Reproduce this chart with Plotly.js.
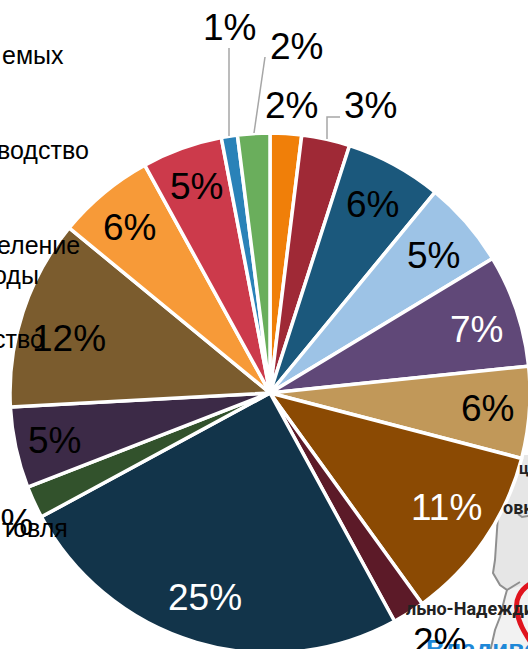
<!DOCTYPE html>
<html><head><meta charset="utf-8">
<script src="https://cdn.plot.ly/plotly-3.0.1.min.js"></script>
<style>html,body{margin:0;padding:0;width:528px;height:649px;overflow:hidden;background:#fff}</style>
</head><body><div id="c"></div>
<script>
const sliceNames = ["A","B","C","D","E","F","G","H","I","J","K","L","M","N","O","P"];
const sliceValues = [1.95,3.0,6.0,5.4,7.0,5.7,11.0,2.0,25.05,2.0,5.05,11.8,6.05,5.0,1.0,2.0];
const sliceColors = ["#F07F09","#9F2936","#1B587C","#9DC3E6","#604878","#C19859","#8B4A03","#5C1A28","#12344A","#32522C","#3C2A47","#7B5C2E","#F79A38","#CC3A4B","#2A82B8","#6AAE5C"];
const pctLabels = ["2%","3%","6%","5%","7%","6%","11%","2%","25%","2%","5%","12%","6%","5%","1%","2%"];
const pctX = [291,370,372,433,476,487,447,439,205,6,54,69,129,196,229,296];
const pctY = [105,105,204,256,329,408,508,641,597,522,440,339,228,187,28,46];
const pctCol = ["#000","#000","#000","#000","#fff","#000","#fff","#000","#fff","#000","#000","#000","#000","#000","#000","#000"];
const fragTexts = ["емых","водство","еление","оды","ство","товля"];
const fragRight = [66,91,82,41,46,70];
const fragY = [55,150,245,275,339,528];

const W=540,H=670;
const ann=[];
const px=x=>x/W, py=y=>1-y/H;
const mapTexts=[["ц",524,468,16],["овк",518,508,18],["льно-Надежди",470,608,18]];
ann.push({xref:'paper',yref:'paper',x:px(424),y:py(649),xanchor:'left',yanchor:'middle',showarrow:false,text:'<b>Владивос</b>',font:{family:'Liberation Sans',size:26,color:'#1E88D8'}});
mapTexts.forEach(m=>ann.push({xref:'paper',yref:'paper',x:px(m[1]),y:py(m[2]),xanchor:'center',yanchor:'middle',showarrow:false,text:'<b>'+m[0]+'</b>',font:{family:'Roboto, Liberation Sans',size:m[3],color:'#222'}}));
pctLabels.forEach((t,i)=>ann.push({xref:'paper',yref:'paper',x:px(pctX[i]),y:py(pctY[i]),xanchor:'center',yanchor:'middle',showarrow:false,text:t,font:{family:'Liberation Sans',size:37,color:pctCol[i]}}));
fragTexts.forEach((t,i)=>ann.push({xref:'paper',yref:'paper',x:px(fragRight[i]),y:py(fragY[i]),xanchor:'right',yanchor:'middle',showarrow:false,text:t,font:{family:'Liberation Sans',size:25,color:'#000'}}));
const pathPx=p=>p.replace(/(-?\d+),(-?\d+)/g,(m,a,b)=>px(+a)+','+py(+b));
const shapes=[
 {type:'path',layer:'below',xref:'paper',yref:'paper',path:pathPx('M 515,455 L 540,455 L 540,670 L 486,670 L 495,630 L 500,617 L 505,597 L 507,590 L 500,585 L 493,573 L 495,560 L 498,520 Z'),fillcolor:'#E6E6E6',line:{width:0}},
 {type:'path',layer:'below',xref:'paper',yref:'paper',path:pathPx('M 507,590 L 540,580 L 540,670 L 486,670 L 495,630 L 500,617 L 505,597 Z'),fillcolor:'#F2F2F2',line:{width:0}},
 {type:'path',layer:'below',xref:'paper',yref:'paper',path:pathPx('M 498,515 L 495,560 L 493,573 L 500,585 L 507,590 L 505,597 L 500,617 L 495,630 L 486,670'),line:{color:'#8F8F8F',width:2}},
 {type:'path',layer:'below',xref:'paper',yref:'paper',path:pathPx('M 507,590 L 520,582'),line:{color:'#8F8F8F',width:2}},
 {type:'path',layer:'below',xref:'paper',yref:'paper',path:pathPx('M 518,514 L 522,517 L 540,514'),line:{color:'#8F8F8F',width:2}},
 {type:'path',layer:'above',xref:'paper',yref:'paper',path:pathPx('M 530,584 C 520,590 515,600 517,610 C 518,622 524,632 532,644'),line:{color:'#E0141E',width:5}},
 {type:'path',layer:'above',xref:'paper',yref:'paper',path:pathPx('M 229,136 L 229,48'),line:{color:'#A6A6A6',width:1.5}},
 {type:'path',layer:'above',xref:'paper',yref:'paper',path:pathPx('M 254,133 L 265,57'),line:{color:'#A6A6A6',width:1.5}},
 {type:'path',layer:'above',xref:'paper',yref:'paper',path:pathPx('M 327,139 L 327,117 L 340,117'),line:{color:'#A6A6A6',width:1.5}}
];
Plotly.newPlot('c',[{type:'pie',labels:sliceNames,values:sliceValues,sort:false,direction:'clockwise',rotation:0,
 marker:{colors:sliceColors,line:{color:'#fff',width:3.5}},textinfo:'none',hoverinfo:'none',showlegend:false,
 domain:{x:[10/W,530/W],y:[1-653/H,1-133/H]}}],
 {width:W,height:H,margin:{l:0,r:0,t:0,b:0,pad:0},paper_bgcolor:'#fff',showlegend:false,annotations:ann,shapes:shapes},
 {staticPlot:true,displayModeBar:false});
</script></body></html>
